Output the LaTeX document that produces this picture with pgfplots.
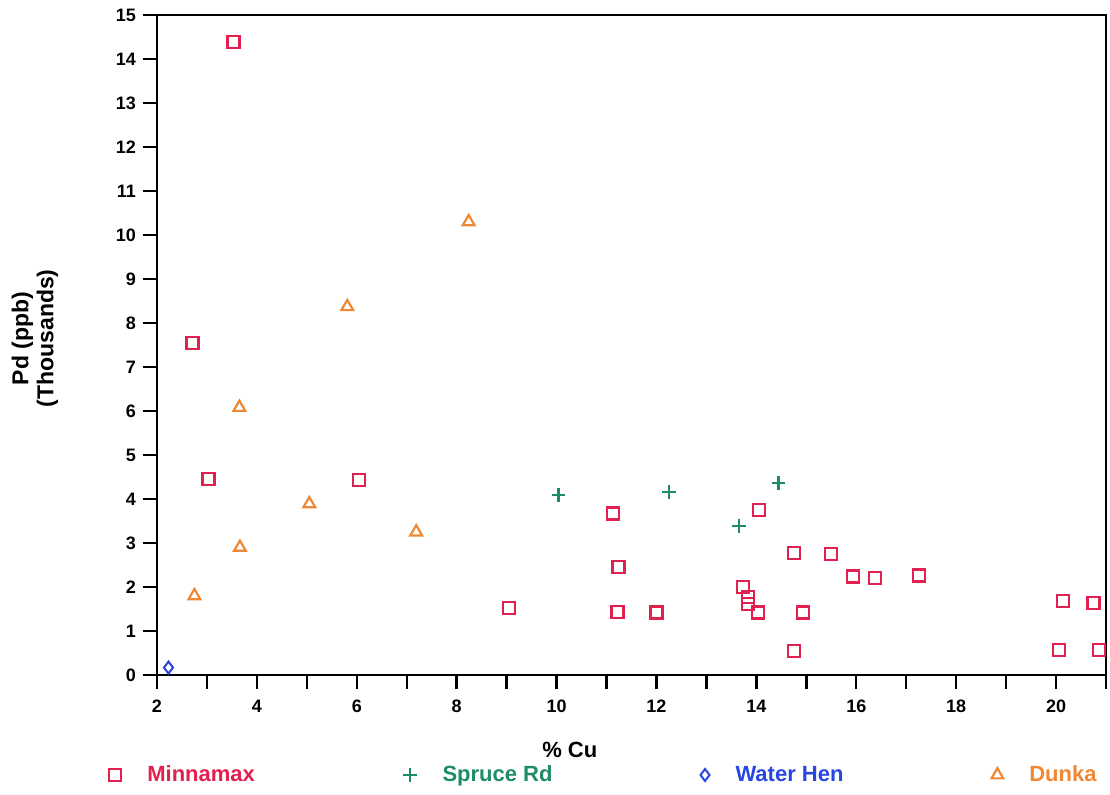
\documentclass[border=0pt]{standalone}
\usepackage{fontspec}
\setmainfont{Liberation Sans}
\usepackage{pgfplots}
\pgfplotsset{compat=1.18}

\definecolor{minna}{RGB}{226,32,80}
\definecolor{spruce}{RGB}{30,140,100}
\definecolor{water}{RGB}{40,70,225}
\definecolor{dunka}{RGB}{240,135,50}

\begin{document}
\begin{tikzpicture}
\useasboundingbox (-78.5pt,-59.5pt) rectangle (476.5pt,337.5pt);
\begin{axis}[
  at={(0pt,0pt)}, anchor=south west,
  scale only axis, width=474.5pt, height=330pt,
  xmin=2, xmax=21, ymin=0, ymax=15,
  xtick={2,4,...,20}, minor xtick={3,5,...,21},
  ytick={0,1,...,15},
  tick align=outside, tick pos=left,
  major tick length=7pt, minor tick length=7pt,
  axis line style={line width=1.2pt, black},
  every tick/.style={line width=1.2pt, black},
  /pgf/number format/assume math mode=true,
  tick label style={font=\fontsize{9}{10}\selectfont\bfseries},
  xticklabel style={yshift=-2pt},
  xlabel={\% Cu},
  xlabel style={at={(0.435,-0.1136)}, anchor=center, font=\fontsize{11}{13}\selectfont\bfseries},
  ylabel={Pd (ppb)\\(Thousands)},
  ylabel style={at={(-0.1286,0.51)}, anchor=center, align=center, rotate=0,
    font=\fontsize{11.5}{12.5}\selectfont\bfseries},
  legend columns=4,
  legend style={at={(0.472,-0.1515)}, anchor=center, draw=none, fill=none,
    font=\fontsize{11}{13}\selectfont\bfseries,
    /tikz/every odd column/.append style={column sep=11pt},
    /tikz/every even column/.append style={column sep=72pt}},
]
% Minnamax
\addplot[only marks, mark=square, mark size=3pt, minna, line width=1.1pt] coordinates {
  (2.71,7.54) (3.03,4.45) (3.53,14.39) (6.05,4.43) (9.05,1.52)
  (11.13,3.67) (11.24,2.45) (11.22,1.43) (12.0,1.42)
  (13.74,2.0) (13.84,1.78) (13.84,1.62) (14.04,1.42) (14.06,3.75)
  (14.75,2.78) (14.75,0.55) (14.93,1.42) (15.49,2.75) (15.93,2.24)
  (16.37,2.21) (17.25,2.26) (20.06,0.56) (20.14,1.69) (20.75,1.64) (20.86,0.56)
};
\addlegendentry[text=minna]{Minnamax}
% Spruce Rd
\addplot[only marks, mark=+, mark size=3.4pt, spruce, line width=1.2pt] coordinates {
  (10.04,4.09) (12.25,4.16) (13.65,3.39) (14.44,4.37)
};
\addlegendentry[text=spruce]{Spruce Rd}
% Water Hen
\addplot[only marks, mark=diamond, mark size=3pt, water, line width=1pt] coordinates {
  (2.23,0.17)
};
\addlegendentry[text=water]{Water Hen}
% Dunka
\addplot[only marks, mark=triangle, mark size=3.4pt, dunka, line width=1.1pt] coordinates {
  (2.75,1.80) (3.65,6.08) (3.66,2.90) (5.05,3.89) (5.81,8.37) (7.19,3.25) (8.24,10.30)
};
\addlegendentry[text=dunka]{Dunka}
\end{axis}
\end{tikzpicture}
\end{document}
